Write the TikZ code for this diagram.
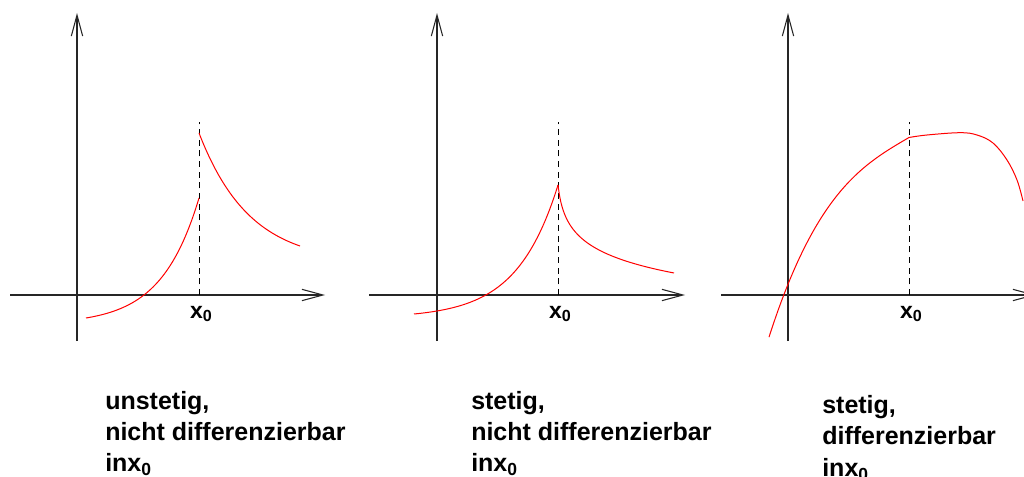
\documentclass[tikz,border=0pt]{standalone}
\usepackage{fontspec}
\setmainfont{Liberation Sans}
\usepackage{tikz}
\usetikzlibrary{arrows.meta,calc}
\newcommand{\xnull}{x\raisebox{-0.17em}{\scalebox{0.7}{0}}}

\begin{document}
\begin{tikzpicture}[
                x=0.75pt, y=-0.75pt, % 像素坐标, y 向下
                achse/.style={draw=black!85, line width=0.8pt, -{Straight Barb[length=15.75pt,width=8.5pt]}},
                kurve/.style={red, line width=0.75pt},
                hilfslinie/.style={dash pattern=on 4.5pt off 3.5pt, line width=0.75pt},
                beschr/.style={font=\bfseries\fontsize{18.75}{22}\selectfont, anchor=base west, inner sep=0pt},
                xlbl/.style={font=\bfseries\fontsize{17.25}{20}\selectfont, anchor=base, inner sep=0pt},
            ]
            \useasboundingbox (0,0) rectangle (1024,477);
            % 坐标轴的端点
            \coordinate (X1a) at (10,295);  \coordinate (X1b) at (325,295);
            \coordinate (Y1a) at (77,341);  \coordinate (Y1b) at (77,13);
            \coordinate (X2a) at (369,295); \coordinate (X2b) at (685,295);
            \coordinate (Y2a) at (437,341); \coordinate (Y2b) at (437,13);
            \coordinate (X3a) at (721,295); \coordinate (X3b) at (1036,295);
            \coordinate (Y3a) at (788,341); \coordinate (Y3b) at (788,13);
            % x0 处的虚线
            \coordinate (D1a) at (199,295); \coordinate (D1b) at (199,122);
            \coordinate (D2a) at (558,295); \coordinate (D2b) at (558,122);
            \coordinate (D3a) at (909,295); \coordinate (D3b) at (909,122);

            % 画坐标轴
            \draw[achse] (X1a) -- (X1b);
            \draw[achse] (Y1a) -- (Y1b);
            \draw[achse] (X2a) -- (X2b);
            \draw[achse] (Y2a) -- (Y2b);
            \draw[achse] (X3a) -- (X3b);
            \draw[achse] (Y3a) -- (Y3b);
            \draw[hilfslinie] (D1a) -- (D1b);
            \draw[hilfslinie] (D2a) -- (D2b);
            \draw[hilfslinie] (D3a) -- (D3b);

            % 第一张图: 跳跃
            \draw[kurve] plot[domain=86:199, samples=60] (\x, {318 - 120*(exp(3*(\x-86)/113)-1)/(exp(3)-1)});
            \draw[kurve] plot[domain=199:300, samples=60] (\x, {133 + 113*(1-exp(-2*(\x-199)/101))/(1-exp(-2))});
            % 第二张图: 尖点
            \draw[kurve] plot[domain=414:558, samples=70] (\x, {314 - 129*(exp(3.5*(\x-414)/144)-1)/(exp(3.5)-1)});
            \draw[kurve] plot[domain=558:674, samples=90] (\x, {185 + 88*ln(1+45*(\x-558)/116)/ln(46)});
            % 第三张图: 光滑
            \draw[kurve] plot[domain=769:909, samples=80] (\x, {137.5 + 58.3*(909-\x)/100 + 43*((909-\x)/100)^3});
            \draw[kurve] plot[smooth, tension=0.6] coordinates {(909,137.5) (927,135) (960,132.7) (977,135) (993,143) (1007,160) (1017,180) (1023,201)};

            % x0 标记
            \node[xlbl] (x1) at (201,318) {\xnull};
            \node[xlbl] (x2) at (560,318) {\xnull};
            \node[xlbl] (x3) at (911,318) {\xnull};

            % 说明文字
            \node[beschr] (t1a) at (105,409.5) {unstetig,};
            \node[beschr] (t1b) at (105,440.5) {nicht differenzierbar};
            \node[beschr] (t1c) at (105,471) {in\xnull};
            \node[beschr] (t2a) at (471,409.5) {stetig,};
            \node[beschr] (t2b) at (471,440.5) {nicht differenzierbar};
            \node[beschr] (t2c) at (471,471) {in\xnull};
            \node[beschr] (t3a) at (822,413) {stetig,};
            \node[beschr] (t3b) at (822,444.5) {differenzierbar};
            \node[beschr] (t3c) at (822,476) {in\xnull};
            \end{tikzpicture}
\end{document}
